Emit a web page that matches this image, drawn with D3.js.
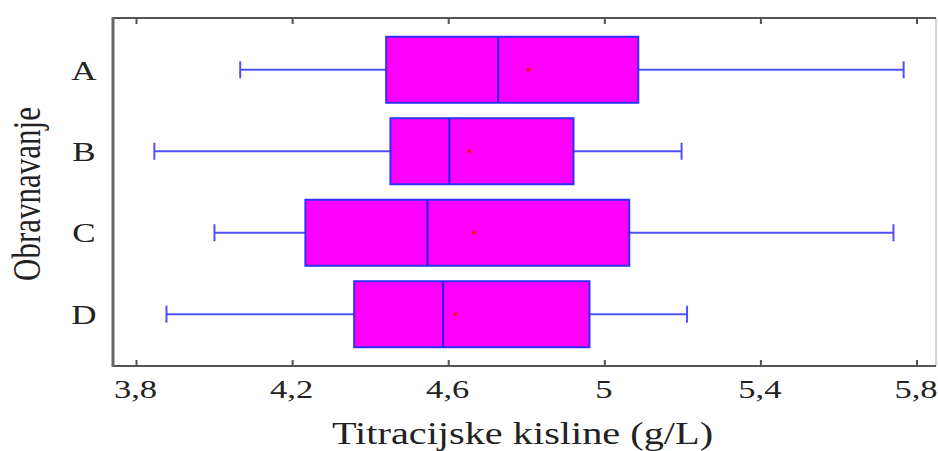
<!DOCTYPE html>
<html>
<head>
<meta charset="utf-8">
<script src="https://cdn.jsdelivr.net/npm/d3@7"></script>
<style>
  html, body { margin: 0; padding: 0; background: #fff; }
  svg { display: block; font-family: "Liberation Serif", "DejaVu Serif", serif; }
</style>
</head>
<body>
<svg id="chart" width="938" height="451"></svg>
<script>
const categories = ["A", "B", "C", "D"];
const whiskerLow  = [4.067, 3.847, 4.001, 3.878];
const q1          = [4.441, 4.452, 4.234, 4.359];
const median      = [4.728, 4.603, 4.547, 4.587];
const mean        = [4.806, 4.654, 4.666, 4.618];
const q3          = [5.087, 4.921, 5.064, 4.962];
const whiskerHigh = [5.767, 5.198, 5.741, 5.212];
const tickValues  = [3.8, 4.2, 4.6, 5.0, 5.4, 5.8];
const tickLabels  = ["3,8", "4,2", "4,6", "5", "5,4", "5,8"];
const xTitle = "Titracijske kisline (g/L)";
const yTitle = "Obravnavanje";

const rows = categories.map((c, i) => ({
  cat: c, lo: whiskerLow[i], q1: q1[i], med: median[i], mean: mean[i], q3: q3[i], hi: whiskerHigh[i]
}));

const L = 113, R = 936, T = 18, B = 366;
const svg = d3.select("#chart");

const x = d3.scaleLinear().domain([3.741, 5.850]).range([L, R]);
const y = d3.scalePoint().domain(categories).range([T, B]).padding(0.635);

const boxH = 66, capH = 17;

// whiskers
const g = svg.append("g");
g.selectAll("line.wl").data(rows).join("line")
  .attr("x1", d => x(d.lo)).attr("x2", d => x(d.q1))
  .attr("y1", d => y(d.cat)).attr("y2", d => y(d.cat))
  .attr("stroke", "#5050ff").attr("stroke-width", 2);
g.selectAll("line.wh").data(rows).join("line")
  .attr("x1", d => x(d.q3)).attr("x2", d => x(d.hi))
  .attr("y1", d => y(d.cat)).attr("y2", d => y(d.cat))
  .attr("stroke", "#5050ff").attr("stroke-width", 2);
g.selectAll("line.cl").data(rows).join("line")
  .attr("x1", d => x(d.lo)).attr("x2", d => x(d.lo))
  .attr("y1", d => y(d.cat) - capH / 2).attr("y2", d => y(d.cat) + capH / 2)
  .attr("stroke", "#5050ff").attr("stroke-width", 2);
g.selectAll("line.ch").data(rows).join("line")
  .attr("x1", d => x(d.hi)).attr("x2", d => x(d.hi))
  .attr("y1", d => y(d.cat) - capH / 2).attr("y2", d => y(d.cat) + capH / 2)
  .attr("stroke", "#5050ff").attr("stroke-width", 2);

// boxes
g.selectAll("rect.box").data(rows).join("rect")
  .attr("x", d => x(d.q1)).attr("width", d => x(d.q3) - x(d.q1))
  .attr("y", d => y(d.cat) - boxH / 2).attr("height", boxH)
  .attr("fill", "#ff00ff").attr("stroke", "#3030ff").attr("stroke-width", 2);

// medians
g.selectAll("line.med").data(rows).join("line")
  .attr("x1", d => x(d.med)).attr("x2", d => x(d.med))
  .attr("y1", d => y(d.cat) - boxH / 2).attr("y2", d => y(d.cat) + boxH / 2)
  .attr("stroke", "#2020e8").attr("stroke-width", 2);

// means
g.selectAll("rect.mean").data(rows).join("rect")
  .attr("x", d => x(d.mean) - 2).attr("y", d => y(d.cat) - 1.5)
  .attr("width", 4).attr("height", 3)
  .attr("fill", "#ff1010");

// frame
const frame = svg.append("g");
frame.append("line").attr("x1", R).attr("x2", R).attr("y1", T).attr("y2", B)
  .attr("stroke", "#c8c8c8").attr("stroke-width", 1.5);
frame.append("line").attr("x1", L).attr("x2", R).attr("y1", T).attr("y2", T)
  .attr("stroke", "#555").attr("stroke-width", 2);
frame.append("line").attr("x1", L).attr("x2", R).attr("y1", B).attr("y2", B)
  .attr("stroke", "#555").attr("stroke-width", 2);
frame.append("line").attr("x1", L).attr("x2", L).attr("y1", T - 1).attr("y2", B + 1)
  .attr("stroke", "#666").attr("stroke-width", 3);

// bottom axis
const xAxis = d3.axisBottom(x).tickValues(tickValues)
  .tickFormat((d, i) => tickLabels[i]).tickSize(-6).tickSizeOuter(0);
const gx = svg.append("g").attr("transform", `translate(0,${B})`).call(xAxis);
gx.select(".domain").remove();
gx.selectAll(".tick line").attr("stroke", "#555").attr("stroke-width", 2);
gx.selectAll(".tick text")
  .attr("y", 0).attr("dy", 0).attr("x", 0)
  .attr("transform", "translate(-1,32) scale(1.33,1)")
  .attr("font-size", 26).attr("fill", "#222")
  .attr("font-family", "Liberation Serif, serif");

// top axis (ticks only)
const xTop = d3.axisTop(x).tickValues(tickValues).tickFormat("").tickSize(-6).tickSizeOuter(0);
const gt = svg.append("g").attr("transform", `translate(0,${T})`).call(xTop);
gt.select(".domain").remove();
gt.selectAll(".tick line").attr("stroke", "#555").attr("stroke-width", 2);

// left axis labels
const yAxis = d3.axisLeft(y).tickSize(0).tickSizeOuter(0);
const gy = svg.append("g").attr("transform", `translate(${L},0)`).call(yAxis);
gy.select(".domain").remove();
gy.selectAll(".tick text")
  .attr("x", 0).attr("dy", "0.33em")
  .attr("text-anchor", "middle")
  .attr("transform", "translate(-29,0) scale(1.25,1)")
  .attr("font-size", 28).attr("fill", "#222")
  .attr("font-family", "Liberation Serif, serif");

// titles
svg.append("text")
  .attr("transform", `translate(${(L + R) / 2 - 2},444) scale(1.3,1)`)
  .attr("text-anchor", "middle").attr("font-size", 31).attr("fill", "#222")
  .text(xTitle);
svg.append("text")
  .attr("transform", `translate(40,194) scale(1.3,1) rotate(-90)`)
  .attr("text-anchor", "middle").attr("font-size", 31).attr("fill", "#222")
  .text(yTitle);
</script>
</body>
</html>
